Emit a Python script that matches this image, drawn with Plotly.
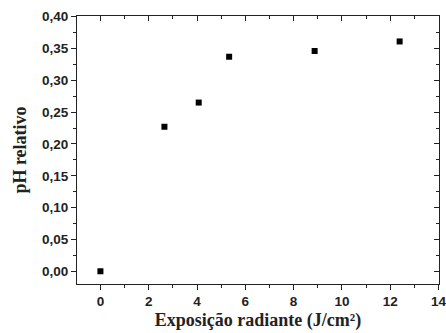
import plotly.graph_objects as go

x_vals = [0, 2.65, 4.07, 5.33, 8.87, 12.39]
y_vals = [0.0, 0.227, 0.265, 0.337, 0.346, 0.361]
x_title = "Exposição radiante (J/cm²)"
y_title = "pH relativo"

fig = go.Figure()
fig.add_trace(go.Scatter(x=x_vals, y=y_vals, mode="markers",
                         marker=dict(symbol="square", size=6, color="black"),
                         showlegend=False))
fig.add_trace(go.Scatter(x=[None], y=[None], xaxis="x2", yaxis="y2", showlegend=False))

tickfont = dict(family="Liberation Sans, Arial", size=13.5, color="#222")
titlefont = dict(family="Liberation Serif, Times New Roman", size=18, color="#222")

xr = [-0.97, 14.02]
yr = [-0.020, 0.401]

fig.update_layout(
    width=446, height=333,
    margin=dict(l=77, r=7, t=16, b=49),
    plot_bgcolor="white", paper_bgcolor="white",
    separators=",.",
    xaxis=dict(range=xr, showgrid=False, zeroline=False, showline=True, linecolor="#222", linewidth=1,
               ticks="outside", ticklen=5, tickcolor="#222", dtick=2, tick0=0, automargin=False,
               tickprefix="<b>", ticksuffix="</b>", ticklabeloverflow="allow",
               tickfont=tickfont, title=dict(text="<b>" + x_title + "</b>", font=titlefont, standoff=5),
               minor=dict(ticks="outside", ticklen=3, dtick=1, tick0=0, tickcolor="#222"),
               mirror=True),
    yaxis=dict(range=yr, showgrid=False, zeroline=False, showline=True, linecolor="#222", linewidth=1,
               ticks="outside", ticklen=5, tickcolor="#222", dtick=0.05, tick0=0, tickformat=".2f",
               tickprefix="<b>", ticksuffix="</b>", automargin=False, ticklabeloverflow="allow",
               tickfont=tickfont, title=dict(text="<b>" + y_title + "</b>", font=titlefont, standoff=10),
               minor=dict(ticks="outside", ticklen=3, dtick=0.025, tick0=0, tickcolor="#222"),
               mirror=True),
    xaxis2=dict(range=xr, overlaying="x", side="top", showgrid=False, zeroline=False,
                ticks="inside", ticklen=5, tickcolor="#222", dtick=2, tick0=0, showticklabels=False,
                minor=dict(ticks="inside", ticklen=3, dtick=1, tick0=0, tickcolor="#222"),
                anchor="y2"),
    yaxis2=dict(range=yr, overlaying="y", side="right", showgrid=False, zeroline=False,
                ticks="inside", ticklen=5, tickcolor="#222", dtick=0.05, tick0=0, showticklabels=False,
                minor=dict(ticks="inside", ticklen=3, dtick=0.025, tick0=0, tickcolor="#222"),
                anchor="x2"),
)

fig.write_html("out.html", config={"displayModeBar": False},
               post_script="document.body.style.margin='0';document.body.style.overflow='hidden';")
